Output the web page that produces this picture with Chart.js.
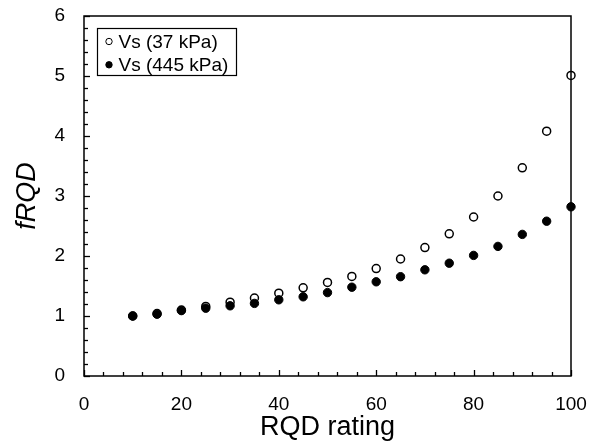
<!DOCTYPE html>
<html>
<head>
<meta charset="utf-8">
<script src="https://cdn.jsdelivr.net/npm/chart.js@4.4.1/dist/chart.umd.min.js"></script>
<style>
  html, body { margin: 0; padding: 0; background: #fff; }
  #wrap { width: 592px; height: 445px; }
</style>
</head>
<body>
<div id="wrap"><canvas id="c" width="592" height="445"></canvas></div>
<script>
const rqd = [10, 15, 20, 25, 30, 35, 40, 45, 50, 55, 60, 65, 70, 75, 80, 85, 90, 95, 100];
const vs37 = [1.00, 1.04, 1.10, 1.16, 1.23, 1.30, 1.38, 1.47, 1.56, 1.66, 1.79, 1.95, 2.14, 2.37, 2.65, 3.00, 3.47, 4.08, 5.01];
const vs445 = [1.00, 1.03, 1.09, 1.13, 1.17, 1.21, 1.27, 1.32, 1.39, 1.48, 1.57, 1.655, 1.77, 1.88, 2.01, 2.16, 2.36, 2.58, 2.82];
const seriesLabels = ['Vs (37 kPa)', 'Vs (445 kPa)'];
const xTitle = 'RQD rating';
const yTitle = 'fRQD';

const FONT = 'Arial, "Liberation Sans", sans-serif';

const boxAndTicks = {
  id: 'boxAndTicks',
  afterDatasetsDraw(chart) {
    const {ctx, chartArea: a, scales} = chart;
    ctx.save();
    ctx.strokeStyle = '#000';
    ctx.lineWidth = 1.5;
    ctx.strokeRect(a.left, a.top, a.right - a.left, a.bottom - a.top);
    ctx.lineWidth = 1.3;
    const xs = scales.x, ys = scales.y;
    const xMinor = 4, xMajor = 20;
    for (let v = xs.min; v <= xs.max + 1e-9; v += xMinor) {
      const px = Math.round(xs.getPixelForValue(v)) + 0.5;
      const major = Math.abs(v / xMajor - Math.round(v / xMajor)) < 1e-6;
      const len = major ? 6 : 4;
      ctx.beginPath(); ctx.moveTo(px, a.bottom); ctx.lineTo(px, a.bottom - len); ctx.stroke();
    }
    const yMinor = 0.2, yMajor = 1;
    for (let i = 0; ys.min + i * yMinor <= ys.max + 1e-9; i++) {
      const v = ys.min + i * yMinor;
      const py = Math.round(ys.getPixelForValue(v)) + 0.5;
      const major = Math.abs(v / yMajor - Math.round(v / yMajor)) < 1e-6;
      const len = major ? 6 : 4;
      ctx.beginPath(); ctx.moveTo(a.left, py); ctx.lineTo(a.left + len, py); ctx.stroke();
    }
    ctx.restore();
  },
  afterDraw(chart) {
    const {ctx, chartArea: a} = chart;
    const x0 = a.left + 13.5, y0 = a.top + 12.5, w = 139, h = 47;
    ctx.save();
    ctx.fillStyle = '#fff';
    ctx.fillRect(x0, y0, w, h);
    ctx.strokeStyle = '#000';
    ctx.lineWidth = 1.2;
    ctx.strokeRect(x0, y0, w, h);
    ctx.font = '19px ' + FONT;
    ctx.textBaseline = 'middle';
    ctx.textAlign = 'left';
    chart.data.datasets.forEach((ds, i) => {
      const cy = y0 + 13 + i * 23.3;
      const cx = x0 + 11.5;
      ctx.beginPath();
      ctx.arc(cx, cy, 3.2, 0, Math.PI * 2);
      ctx.fillStyle = ds.backgroundColor;
      ctx.fill();
      ctx.lineWidth = 1;
      ctx.strokeStyle = '#000';
      ctx.stroke();
      ctx.fillStyle = '#000';
      ctx.fillText(ds.label, x0 + 21, cy + 1);
    });
    ctx.restore();
  }
};

new Chart(document.getElementById('c'), {
  type: 'scatter',
  data: {
    datasets: [
      {
        label: seriesLabels[0],
        data: rqd.map((x, i) => ({x, y: vs37[i]})),
        backgroundColor: '#ffffff',
        borderColor: '#000000',
        borderWidth: 1.5,
        pointRadius: 4,
        order: 2,
        clip: false
      },
      {
        label: seriesLabels[1],
        data: rqd.map((x, i) => ({x, y: vs445[i]})),
        backgroundColor: '#000000',
        borderColor: '#000000',
        borderWidth: 1,
        pointRadius: 4.2,
        order: 1,
        clip: false
      }
    ]
  },
  options: {
    responsive: false,
    animation: false,
    devicePixelRatio: 1,
    layout: { padding: { left: 0, right: 21, top: 16, bottom: 0 } },
    plugins: { legend: { display: false }, tooltip: { enabled: false } },
    scales: {
      x: {
        type: 'linear', min: 0, max: 100,
        border: { display: false },
        grid: { display: false, drawTicks: false },
        ticks: { stepSize: 20, padding: 17, color: '#000', font: { family: FONT, size: 19 } },
        title: { display: true, text: xTitle, color: '#000', font: { family: FONT, size: 27 }, padding: { top: 0, bottom: 1 } },
        afterFit(s) { s.height = 69; s.paddingLeft = 0; s.paddingRight = 0; }
      },
      y: {
        type: 'linear', min: 0, max: 6,
        border: { display: false },
        grid: { display: false, drawTicks: false },
        ticks: { stepSize: 1, padding: 19, color: '#000', font: { family: FONT, size: 19 } },
        title: { display: true, text: yTitle, color: '#000', font: { family: FONT, size: 27, style: 'italic' }, padding: { top: 11, bottom: 0 } },
        afterFit(s) { s.width = 84; s.paddingTop = 0; s.paddingBottom = 0; }
      }
    }
  },
  plugins: [boxAndTicks]
});
</script>
</body>
</html>
